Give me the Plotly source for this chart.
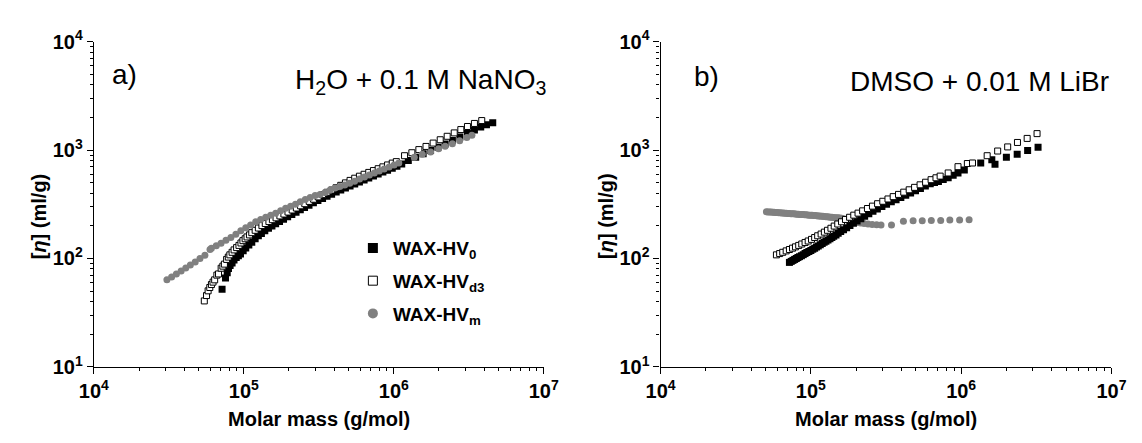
import plotly.graph_objects as go

FONT = "Liberation Sans"
GRAY = "#808080"

# ---------------- panel a) : H2O + 0.1 M NaNO3 ----------------
a_hv0_mass = [71.6e3, 75.5e3, 77.5e3, 79e3, 81e3, 83.5e3, 86e3, 89e3, 92e3, 95e3,
              99e3, 103e3, 108e3, 113e3, 119e3, 125e3, 131e3, 138e3, 146e3, 154e3,
              163e3, 173e3, 184e3, 196e3, 209e3, 223e3, 238e3, 254e3, 272e3, 291e3,
              312e3, 335e3, 359e3, 385e3, 413e3, 443e3, 476e3, 511e3, 549e3, 590e3,
              634e3, 681e3, 732e3, 787e3, 846e3, 909e3, 977e3, 1.05e6, 1.13e6, 1.25e6,
              1.40e6, 1.57e6, 1.76e6, 1.97e6, 2.20e6, 2.46e6, 2.76e6, 3.10e6, 3.45e6,
              3.80e6, 4.15e6, 4.57e6]
a_hv0_eta = [52, 66, 74, 81, 86, 91, 97, 102, 106, 110,
             118, 125, 133, 141, 152, 162, 170, 180, 190, 199,
             209, 219, 230, 242, 254, 267, 281, 295, 310, 326,
             342, 358, 375, 392, 410, 428, 447, 467, 487, 508,
             530, 553, 577, 601, 626, 652, 680, 708, 745, 800,
             860, 925, 990, 1060, 1140, 1225, 1320, 1420, 1530,
             1630, 1715, 1787]

a_hvd3_mass = [54.5e3, 56.4e3, 57.8e3, 59.3e3, 60.8e3, 62.3e3, 63.9e3, 66.1e3, 67.8e3, 70.6e3,
               72.5e3, 74.2e3, 76.8e3, 78.8e3, 80.7e3, 83.5e3, 86.1e3, 89.5e3, 92.8e3, 95.7e3,
               98.6e3, 102e3, 105e3, 109e3, 113e3, 119e3, 125e3, 132e3, 139e3, 147e3,
               155e3, 164e3, 174e3, 185e3, 197e3, 210e3, 224e3, 239e3, 255e3, 273e3,
               292e3, 313e3, 335e3, 359e3, 385e3, 413e3, 443e3, 476e3, 511e3, 549e3,
               590e3, 634e3, 681e3, 732e3, 787e3, 846e3, 909e3, 977e3, 1.04e6, 1.18e6,
               1.32e6, 1.47e6, 1.64e6, 1.83e6, 2.04e6, 2.27e6, 2.53e6, 2.80e6, 3.10e6,
               3.45e6, 3.86e6]
a_hvd3_eta = [40.6, 45.5, 50.3, 54, 57.5, 60.5, 63.5, 70.2, 72, 81.3,
              85, 88.7, 98, 103, 108, 114, 120, 126, 132, 139,
              146, 152, 158, 165, 173, 182, 191, 201, 210, 219,
              228, 237, 247, 257, 268, 280, 292, 306, 320, 336,
              352, 370, 388, 408, 428, 450, 473, 498, 525, 550,
              574, 598, 622, 647, 673, 700, 729, 758, 782, 887,
              945, 1010, 1080, 1160, 1245, 1340, 1440, 1545, 1650,
              1760, 1871]

a_hvm_mass = [30.7e3, 33e3, 35.5e3, 38.2e3, 41e3, 44e3, 47.4e3, 51e3, 55e3, 59.5e3,
              60.8e3, 65.5e3, 70.5e3, 76e3, 82e3, 88.5e3, 95.5e3, 103e3, 111e3, 120e3,
              129.5e3, 140e3, 151e3, 163e3, 176e3, 190e3, 205e3, 221e3, 238e3, 257e3,
              277e3, 299e3, 322e3, 348e3, 375e3, 405e3, 437e3, 471e3, 508e3, 548e3,
              591e3, 638e3, 688e3, 742e3, 800e3, 863e3, 931e3, 1.005e6, 1.08e6, 1.37e6,
              1.55e6, 1.76e6, 1.99e6, 2.20e6, 2.46e6, 2.75e6, 3.07e6, 3.32e6]
a_hvm_eta = [63.5, 67.5, 72, 76.5, 81.5, 87, 93, 100, 107, 121,
             124, 131, 138, 147, 156, 167, 180, 192, 204, 218,
             229, 240, 250, 261, 276, 291, 304, 316, 334, 350,
             365, 380, 390, 405, 425, 447, 462, 477, 495, 517,
             540, 563, 588, 614, 640, 668, 698, 730, 760, 857,
             917, 961, 1027, 1083, 1143, 1222, 1306, 1371]

# ---------------- panel b) : DMSO + 0.01 M LiBr ----------------
b_hv0_mass = [72e3, 74e3, 76e3, 78e3, 80e3, 82e3, 84e3, 86.5e3, 89e3, 91.5e3,
              94e3, 97e3, 100e3, 103e3, 106e3, 109e3, 112e3, 115.5e3, 119e3, 122.5e3,
              126e3, 130e3, 134e3, 138e3, 142e3, 147e3, 152e3, 158e3, 165e3, 173e3,
              182e3, 192e3, 203e3, 215e3, 228e3, 243e3, 259e3, 277e3, 297e3, 319e3,
              343e3, 369e3, 397e3, 428e3, 461e3, 497e3, 536e3, 578e3, 623e3, 665e3,
              706e3, 760e3, 820e3, 885e3, 953e3, 1.05e6, 1.35e6, 1.60e6, 1.68e6,
              2.00e6, 2.36e6, 2.77e6, 3.25e6]
b_hv0_eta = [92, 94, 96, 98, 100, 102, 104, 106, 108.5, 111,
             113.5, 116, 118.5, 121.5, 124.5, 127.5, 130.5, 134, 137.5, 141,
             144.5, 148, 152, 156, 160, 165, 171, 177, 184, 192,
             201, 211, 222, 233, 245, 258, 272, 286, 301, 317,
             333, 349, 366, 384, 402, 422, 443, 465, 488, 503,
             513, 535, 556, 585, 615, 656, 760, 813, 741,
             857, 916, 993, 1062]

b_hvd3_mass = [59e3, 62e3, 65e3, 68.5e3, 72e3, 75.5e3, 79e3, 83e3, 87e3, 91.5e3,
               96e3, 101e3, 106e3, 111e3, 117e3, 123e3, 129e3, 136e3, 143e3, 151e3,
               160e3, 170e3, 181e3, 193e3, 206e3, 221e3, 238e3, 257e3, 278e3, 301e3,
               326e3, 353e3, 383e3, 415e3, 451e3, 490e3, 533e3, 580e3, 631e3, 680e3,
               725e3, 820e3, 953e3, 1.10e6, 1.19e6, 1.49e6, 1.75e6, 2.04e6, 2.37e6,
               2.75e6, 3.20e6]
b_hvd3_eta = [108, 111, 114, 117.5, 121, 124.5, 128, 132, 136, 140.5,
              145, 150, 156, 162, 168, 175, 182, 190, 199, 208,
              218, 229, 240, 251, 262, 275, 289, 304, 320, 337,
              354, 372, 390, 409, 430, 453, 478, 505, 533, 555,
              575, 615, 703, 751, 760, 887, 980, 1069, 1175,
              1281, 1418]

b_hvm_mass = [50.6e3, 51.8e3, 53e3, 54.3e3, 55.6e3, 56.9e3, 58.2e3, 59.6e3, 61e3, 62.5e3,
              64e3, 65.5e3, 67e3, 68.6e3, 70.2e3, 71.9e3, 73.6e3, 75.3e3, 77.1e3, 78.9e3,
              80.8e3, 82.7e3, 84.7e3, 86.7e3, 88.7e3, 90.8e3, 93e3, 95.2e3, 97.4e3, 99.7e3,
              102e3, 104.5e3, 107e3, 109.5e3, 112e3, 114.7e3, 117.4e3, 120.2e3, 123e3, 126e3,
              129e3, 132e3, 135e3, 138.2e3, 141.5e3, 145e3, 148.5e3, 152e3, 156e3, 160e3,
              164e3, 169e3, 174e3, 180e3, 187e3, 195e3, 204e3, 214e3, 226e3, 240e3,
              256e3, 274e3, 293e3, 344e3, 413e3, 479e3, 551e3, 633e3, 731e3, 841e3,
              977e3, 1.13e6]
b_hvm_eta = [270, 269, 268.5, 268, 267, 266.5, 266, 265, 264.5, 264,
             263, 262.5, 262, 261, 260.5, 260, 259, 258.5, 258, 257,
             256.5, 256, 255, 254.5, 254, 253, 252.5, 252, 251, 250.5,
             250, 249, 248.5, 248, 247, 246, 245.5, 245, 244, 243,
             242, 241, 240, 239.5, 239, 238, 237.5, 237, 236, 235,
             233, 230, 227, 224, 221, 218, 215, 212, 210, 208,
             206, 205, 204, 204, 221, 223, 223, 224, 224, 226,
             226, 228]

series_names = ["WAX-HV<sub>0</sub>", "WAX-HV<sub>d3</sub>", "WAX-HV<sub>m</sub>"]

x_tick_vals = [1e4, 1e5, 1e6, 1e7]
x_tick_text = ["10<sup>4</sup>", "10<sup>5</sup>", "10<sup>6</sup>", "10<sup>7</sup>"]
y_tick_vals = [1e1, 1e2, 1e3, 1e4]
y_tick_text = ["10<sup>1</sup>", "10<sup>2</sup>", "10<sup>3</sup>", "10<sup>4</sup>"]
x_minor_vals = [k * 10 ** d for d in (4, 5, 6) for k in range(2, 10)]
y_minor_vals = [k * 10 ** d for d in (1, 2, 3) for k in range(2, 10)]

W, H = 1142, 443

# marker styles for each sample
style_hv0 = dict(symbol="square", size=7, color="black", line=dict(width=0))
style_hvd3 = dict(symbol="square", size=6, color="white", line=dict(color="black", width=1))
style_hvm = dict(symbol="circle", size=7, color=GRAY, line=dict(width=0))

fig = go.Figure()


def add_series(mass, eta, marker, xa, ya):
    fig.add_trace(go.Scatter(x=mass, y=eta, mode="markers", marker=marker,
                             xaxis=xa, yaxis=ya, showlegend=False, hoverinfo="skip"))


# panel a: grey sample drawn on top
add_series(a_hv0_mass, a_hv0_eta, style_hv0, "x", "y")
add_series(a_hvd3_mass, a_hvd3_eta, style_hvd3, "x", "y")
add_series(a_hvm_mass, a_hvm_eta, style_hvm, "x", "y")
# panel b: open squares drawn on top
add_series(b_hvm_mass, b_hvm_eta, style_hvm, "x2", "y2")
add_series(b_hv0_mass, b_hv0_eta, style_hv0, "x2", "y2")
add_series(b_hvd3_mass, b_hvd3_eta, style_hvd3, "x2", "y2")

# legend entries (larger symbols than the data markers)
legend_styles = [
    dict(symbol="square", size=10, color="black", line=dict(width=0)),
    dict(symbol="square", size=9, color="white", line=dict(color="black", width=1)),
    dict(symbol="circle", size=10, color=GRAY, line=dict(width=0)),
]
for i, (name, st) in enumerate(zip(series_names, legend_styles)):
    fig.add_trace(go.Scatter(x=[None], y=[None], mode="markers", marker=st, name=name,
                             legendgroup=f"g{i}", xaxis="x", yaxis="y", hoverinfo="skip"))

tick_font = dict(family=FONT, size=20, color="black", weight="bold")


def log_axis(domain, anchor, rng, tvals, ttext, minor_vals):
    return dict(domain=domain, anchor=anchor, type="log", range=rng,
                showline=True, linecolor="black", linewidth=1.3, mirror=False,
                ticks="outside", ticklen=6, tickwidth=1.2, tickcolor="black",
                tickmode="array", tickvals=tvals, ticktext=ttext, tickfont=tick_font,
                showgrid=False, zeroline=False, fixedrange=True,
                minor=dict(ticks="outside", ticklen=3, tickwidth=1, tickcolor="black",
                           tickmode="array", tickvals=minor_vals, showgrid=False))


xa_dom = [81 / W, 543 / W]
xb_dom = [663 / W, 1126 / W]
y_dom = [(H - 374) / H, (H - 29.3) / H]

ann = []
label_font = dict(family=FONT, size=28, color="black")
title_font = dict(family=FONT, size=20, color="black", weight="bold")
ann.append(dict(text="a)", x=98 / W, y=(H - 64) / H, xanchor="left", yanchor="middle",
                font=label_font))
ann.append(dict(text="H<sub>2</sub>O + 0.1 M NaNO<sub>3</sub>", x=285 / W, y=(H - 72) / H,
                xanchor="left", yanchor="middle", font=label_font))
ann.append(dict(text="b)", x=695 / W, y=(H - 66) / H, xanchor="left", yanchor="middle",
                font=label_font))
ann.append(dict(text="DMSO + 0.01 M LiBr", x=855 / W, y=(H - 72) / H,
                xanchor="left", yanchor="middle", font=label_font))
for xc in ((81 + 543) / 2, (663 + 1126) / 2):
    ann.append(dict(text="Molar mass (g/mol)", x=xc / W, y=(H - 429) / H,
                    xanchor="center", yanchor="middle", font=title_font))
for xc in (25, 607):
    ann.append(dict(text="[<i>η</i>] (ml/g)", x=xc / W, y=(H - 214) / H, textangle=-90,
                    xanchor="center", yanchor="middle", font=title_font))
for a in ann:
    a.update(xref="paper", yref="paper", showarrow=False)

fig.update_layout(
    width=W, height=H,
    margin=dict(l=0, r=0, t=0, b=0),
    paper_bgcolor="white", plot_bgcolor="white",
    xaxis=log_axis(xa_dom, "y", [4, 7], x_tick_vals, x_tick_text, x_minor_vals),
    yaxis=log_axis(y_dom, "x", [1, 4], y_tick_vals, y_tick_text, y_minor_vals),
    xaxis2=log_axis(xb_dom, "y2", [4, 7], x_tick_vals, x_tick_text, x_minor_vals),
    yaxis2=log_axis(y_dom, "x2", [1, 4], y_tick_vals, y_tick_text, y_minor_vals),
    legend=dict(x=347 / W, xanchor="left", y=(H - 228) / H, yanchor="top",
                font=dict(family=FONT, size=19, color="black", weight="bold"),
                bgcolor="rgba(0,0,0,0)", tracegroupgap=5, traceorder="grouped",
                itemwidth=30),
    annotations=ann,
    showlegend=True,
)

fig.write_html("out.html")
